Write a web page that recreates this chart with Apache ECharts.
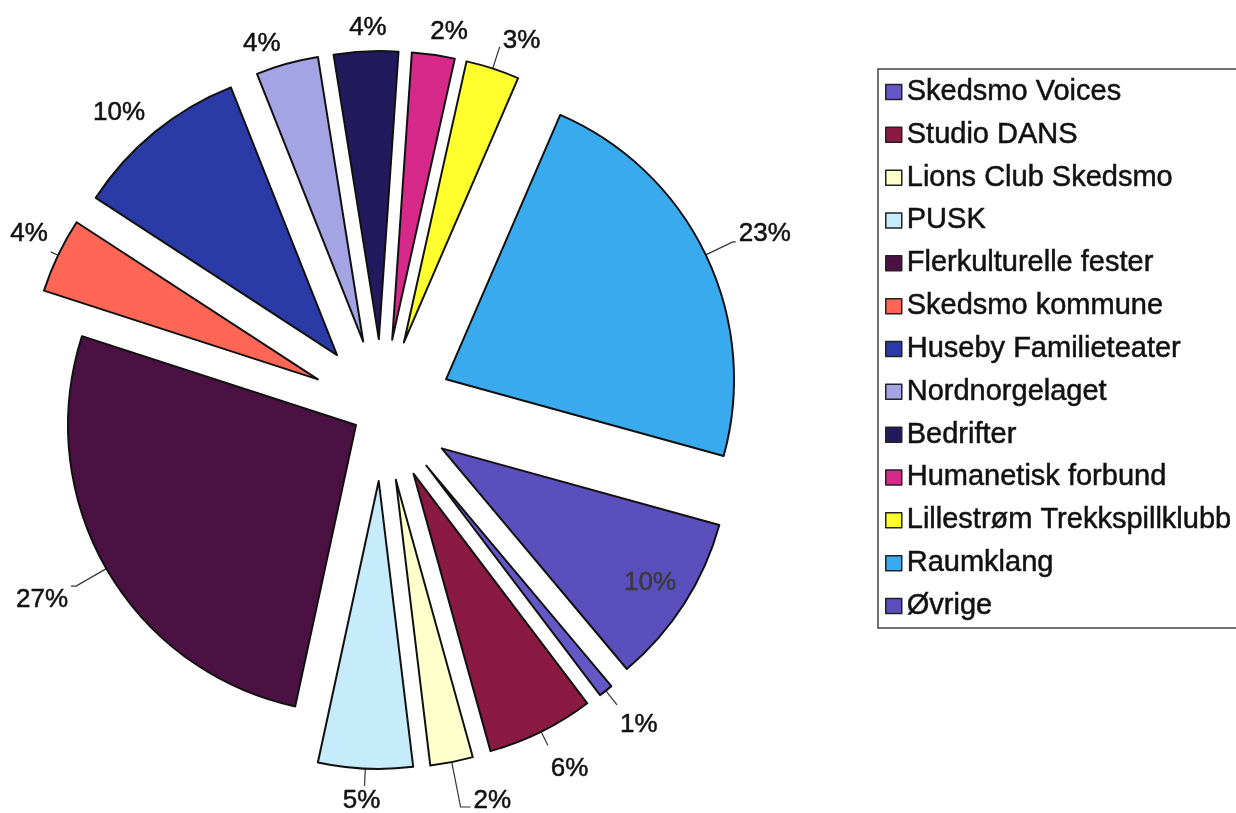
<!DOCTYPE html>
<html><head><meta charset="utf-8">
<script src="https://cdn.jsdelivr.net/npm/echarts@6/dist/echarts.min.js"></script>
<style>html,body{margin:0;padding:0;background:#fff}#c{width:1236px;height:813px}</style>
</head><body><div id="c"></div>
<script>
// ---- data ----
const categories = ['Skedsmo Voices','Studio DANS','Lions Club Skedsmo','PUSK','Flerkulturelle fester','Skedsmo kommune','Huseby Familieteater','Nordnorgelaget','Bedrifter','Humanetisk forbund','Lillestrøm Trekkspillklubb','Raumklang','Øvrige'];
const shares = [0.8, 6.0, 2.4, 5.3, 26.6, 4.2, 9.8, 3.5, 3.6, 2.4, 3.0, 22.8, 9.6];

// ---- styles ----
const colors = ['#6457c6','#8b1a42','#ffffcc','#c6ebfa','#4b1143','#ff6655','#2a3aa6','#a4a4e4','#221a5c','#d6298a','#ffff2e','#3aaaef','#5b4fbe'];
const lessExploded = [4];            // slice pulled out less than the others
const lineShow  = [true, true, true, true, true, true, false, false, false, false, true, true, false];
const lineLen   = [18, 15, 45.7, 17.4, 35, 8, 24.7, 20.3, 23.4, 22.8, 22.7, 30, -38.6];
const lineLen2  = [0, 0, 10, 0, 5, 0, 17.1, 16.9, -6, 9.3, 0, 3, -4.5];
const labelShift = [20, 24, -6, 15, 14, -18, 0, 0, 0, 0, -6, -8, 0]; // vertical text offset from line end
const labelAlign = [null,null,null,'center',null,null,'center','center','center','center',null,null,'center'];
const labelColor = categories.map((c,i)=> i===12 ? '#3a3a3a' : '#111');

function buildData(visible) {
  return categories.map((name, i) => {
    const v = visible(i);
    const s = labelShift[i];
    return {
      name, value: shares[i], selected: v,
      itemStyle: { color: colors[i], opacity: v ? 1 : 0 },
      label: { show: v, color: labelColor[i], textBorderColor: labelColor[i], lineHeight: s ? 2 * Math.abs(s) : 30 },
      labelLine: { show: v && lineShow[i], length: lineLen[i], length2: lineLen2[i] }
    };
  });
}

function pieSeries(offset, visible) {
  return {
    type: 'pie',
    center: [382, 410],
    radius: 288,
    startAngle: -50,
    clockwise: true,
    selectedMode: 'multiple',
    selectedOffset: offset,
    avoidLabelOverlap: false,
    silent: true,
    animation: false,
    emphasis: { disabled: true },
    itemStyle: { borderColor: '#111', borderWidth: 2 },
    label: {
      position: 'outside', alignTo: 'none', distanceToLabelLine: 3, bleedMargin: 0,
      fontFamily: 'Liberation Sans', fontSize: 26, color: '#111',
      textBorderWidth: 0.5,
      formatter: p => {
        const t = Math.round(p.percent) + '%';
        const s = labelShift[p.dataIndex];
        return s > 0 ? '\n' + t : (s < 0 ? t + '\n' : t);
      }
    },
    labelLine: { lineStyle: { color: '#333', width: 1.2 }, smooth: false, minTurnAngle: 0, maxSurfaceAngle: 180 },
    labelLayout: p => (labelAlign[p.dataIndex] ? { align: labelAlign[p.dataIndex] } : {}),
    data: buildData(visible)
  };
}

const chart = echarts.init(document.getElementById('c'), null, { renderer: 'canvas' });
chart.setOption({
  animation: false,
  backgroundColor: '#ffffff',
  legend: {
    orient: 'vertical', left: 878, top: 69,
    padding: [8, 40, 7, 7],
    itemGap: 12.83, itemWidth: 16, itemHeight: 15,
    backgroundColor: '#fff', borderColor: '#444', borderWidth: 1.5,
    selectedMode: false,
    textStyle: { fontFamily: 'Liberation Sans', fontSize: 29, color: '#111', lineHeight: 30,
      textBorderColor: '#111', textBorderWidth: 0.5 },
    data: categories.map((n, i) => ({ name: n, icon: 'rect',
      itemStyle: { color: colors[i], opacity: 1, borderColor: '#222', borderWidth: 1.5 } }))
  },
  series: [
    pieSeries(71, i => lessExploded.indexOf(i) < 0),
    pieSeries(30, i => lessExploded.indexOf(i) >= 0)
  ]
});
</script>
</body></html>
